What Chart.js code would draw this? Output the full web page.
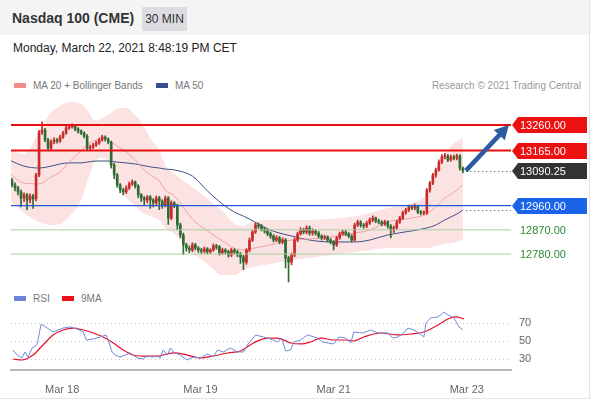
<!DOCTYPE html>
<html>
<head>
<meta charset="utf-8">
<script src="https://cdn.jsdelivr.net/npm/chart.js@4.4.0/dist/chart.umd.min.js"></script>
<style>
  body { margin: 0; background: #fff; font-family: "Liberation Sans", Arial, sans-serif; }
  #wrap { position: relative; width: 589px; height: 398px; border-right: 1px solid #e4e4e4; border-bottom: 1px solid #e4e4e4; overflow: hidden; }
  #head { position: absolute; left: 0; top: 0; width: 589px; height: 35px; background: #f4f4f4; }
  #title { position: absolute; left: 12px; top: 10px; font-size: 14px; font-weight: bold; color: #333; }
  #badge { position: absolute; left: 142px; top: 7px; width: 45px; height: 24px; background: #dcdde1; color: #333; font-size: 12px; line-height: 24px; text-align: center; }
  #date { position: absolute; left: 13px; top: 41px; font-size: 12px; color: #222; }
  .legend { position: absolute; font-size: 10px; color: #777; white-space: nowrap; }
  .sw { display: inline-block; width: 12px; height: 5px; vertical-align: middle; margin-right: 7px; position: relative; top: -1px; }
  #credit { position: absolute; right: 8px; top: 80px; font-size: 10px; color: #999; }
  canvas { position: absolute; left: 0; }
</style>
</head>
<body>
<div id="wrap">
  <div id="head">
    <div id="title">Nasdaq 100 (CME)</div>
    <div id="badge">30 MIN</div>
  </div>
  <div id="date">Monday, March 22, 2021 8:48:19 PM CET</div>
  <div class="legend" style="left:14px;top:80px"><span class="sw" style="background:#f28b8b"></span>MA 20 + Bollinger Bands</div>
  <div class="legend" style="left:156px;top:80px"><span class="sw" style="background:#34508f"></span>MA 50</div>
  <div id="credit">Research © 2021 Trading Central</div>
  <div class="legend" style="left:14px;top:293px"><span class="sw" style="background:#6f83d8"></span>RSI</div>
  <div class="legend" style="left:62px;top:293px"><span class="sw" style="background:#e8101a"></span>9MA</div>
  <canvas id="price" width="590" height="185" style="top:100px"></canvas>
  <canvas id="rsi" width="590" height="115" style="top:285px"></canvas>
</div>

<script>
// 30 min candles, index 0 = first bar on the left
const closes = [13037,13026,13011,12988,13000,12981,12996,12985,13074,13234,
  13241,13204,13174,13197,13204,13200,13215,13230,13249,13253,
  13256,13245,13238,13230,13219,13174,13178,13186,13193,13204,
  13215,13208,13197,13111,13074,13037,13018,13011,13026,13041,
  13048,13033,13000,12988,12981,12992,12981,12970,12988,12977,
  12962,12988,12914,12970,12962,12888,12851,12814,12802,12795,
  12814,12802,12795,12791,12799,12788,12795,12810,12806,12784,
  12795,12788,12776,12795,12788,12780,12769,12750,12795,12832,
  12862,12888,12884,12873,12866,12855,12847,12832,12840,12825,
  12832,12765,12750,12776,12832,12855,12869,12862,12877,12858,
  12866,12858,12847,12840,12843,12832,12825,12814,12840,12855,
  12862,12855,12847,12832,12888,12899,12888,12884,12895,12907,
  12914,12903,12899,12892,12899,12884,12869,12877,12899,12914,
  12933,12944,12955,12951,12959,12936,12933,12933,13018,13044,
  13074,13093,13122,13141,13145,13130,13141,13137,13145,13100,
  13090.25];
const highs = [13062,13045,13032,13018,13008,13006,13004,13002,13080,13240,
  13272,13248,13210,13205,13212,13210,13222,13236,13256,13262,
  13264,13260,13250,13242,13235,13224,13185,13192,13200,13210,
  13222,13220,13212,13200,13118,13080,13042,13025,13034,13048,
  13056,13052,13038,13005,12994,12998,12998,12986,12996,12995,
  12982,12996,12994,12978,12975,12966,12895,12858,12820,12810,
  12822,12820,12808,12802,12806,12804,12800,12818,12816,12812,
  12802,12800,12794,12802,12800,12794,12786,12775,12800,12840,
  12870,12896,12895,12890,12880,12872,12862,12852,12848,12846,
  12840,12838,12772,12784,12840,12862,12878,12876,12885,12884,
  12874,12872,12864,12852,12850,12848,12838,12830,12846,12862,
  12870,12868,12860,12852,12895,12906,12904,12894,12902,12914,
  12922,12918,12910,12905,12906,12904,12890,12885,12906,12920,
  12940,12950,12962,12962,12966,12962,12942,12940,13024,13050,
  13080,13100,13130,13150,13155,13150,13148,13148,13152,13150,
  13104];
const lows = [13030,13015,13000,12955,12975,12945,12970,12950,12978,13068,
  13225,13198,13165,13168,13190,13192,13195,13210,13225,13244,
  13248,13238,13230,13224,13212,13166,13168,13172,13180,13188,
  13200,13200,13190,13100,13060,13028,13008,13000,13005,13020,
  13035,13025,12990,12975,12960,12970,12950,12955,12962,12945,
  12950,12955,12890,12908,12952,12870,12840,12778,12790,12785,
  12788,12795,12786,12782,12784,12780,12782,12790,12798,12776,
  12778,12780,12768,12770,12780,12770,12745,12722,12742,12788,
  12826,12856,12876,12866,12858,12848,12838,12825,12826,12818,
  12818,12728,12676,12740,12770,12826,12850,12855,12855,12850,
  12850,12850,12840,12832,12834,12825,12818,12795,12808,12835,
  12850,12848,12840,12825,12828,12882,12880,12876,12878,12890,
  12900,12896,12892,12885,12886,12876,12840,12860,12872,12894,
  12908,12928,12938,12945,12944,12930,12926,12926,12928,13010,
  13038,13066,13088,13116,13134,13124,13125,13130,13130,13092,
  13082];
const firstOpen = 13055;

// MA 20 + Bollinger bands and MA 50, read at these bar indexes
const bandIdx = [-1,4,9,13,16,19,23,25,28,30,32,35,38,41,43,46,49,51,54,60,
  65,70,74,77,79,86,93,99,106,114,119,125,133,138,141,144,148,150];
const upperBand = [13174,13152,13234,13308,13331,13346,13338,13316,13275,13286,
  13297,13320,13323,13297,13271,13212,13167,13111,13078,13029,
  12985,12940,12892,12884,12895,12907,12907,12907,12910,12921,
  12933,12951,12970,13007,13093,13156,13200,13212];
const ma20 = [13081,13044,13041,13067,13085,13122,13163,13186,13204,13215,
  13204,13182,13160,13130,13104,13074,13052,13018,12996,12910,
  12866,12829,12802,12795,12799,12814,12832,12836,12843,12858,
  12869,12899,12914,12929,12955,12988,13018,13037];
const lowerBand = [12981,12933,12899,12888,12892,12918,12981,13048,13130,13137,
  13122,13037,12988,12959,12936,12921,12907,12877,12855,12788,
  12743,12702,12702,12721,12728,12743,12758,12765,12776,12788,
  12795,12802,12802,12802,12810,12817,12825,12832];
const ma50 = [13130,13107,13100,13107,13115,13119,13119,13122,13126,13126,
  13126,13122,13119,13115,13111,13104,13100,13096,13093,13070,
  13015,12966,12936,12921,12910,12869,12847,12832,12825,12825,
  12832,12851,12866,12877,12888,12907,12929,12944];

// support / resistance levels and the projection arrow
const levels = [13260, 13165, 12960, 12870, 12780];
const lastPrice = 13090.25;
const projIdx = [151, 165.3];
const projPrice = [13090.25, 13260];

// RSI panel
const rsiIdx = [0.3,1.7,3.3,4.3,5.3,6.7,8.3,9.7,11.7,13.7,
  17,19.3,21.7,23.7,24.7,27,29.3,31.3,32,33.3,
  34.3,36,37.7,39.3,41.7,43.7,45,46.7,48.3,49.3,
  50.3,51.7,52.7,53.7,56,58.3,60.3,62.7,65,67,
  68.3,70.3,72.7,75,77,78.3,81,83.7,86,88.3,
  89.7,91,92.7,93.7,96,98.3,101.7,103.3,107,108.7,
  111,112.7,113.7,116.7,119.3,121.7,125,126.7,128.3,130.3,
  131.7,133.7,135.3,137,137.7,139.3,141.7,143.7,145,147,
  148.7,150];
const rsiVal = [40,34.4,31.1,37.8,32.2,42.2,45.6,68.9,64.4,60,
  64.4,65.6,63.3,60,51.1,52.2,54.4,56.7,51.1,37.8,
  34.4,32.2,34.4,36.7,31.1,30,33.3,32.2,33.3,31.1,
  40,34.4,42.2,37.8,34.4,28.9,32.2,31.1,35.6,32.2,
  40,37.8,42.2,37.8,37.8,45.6,56.7,54.4,52.2,48.9,
  53.3,38.9,40,48.9,51.1,56.7,53.3,48.9,46.7,54.4,
  53.3,47.8,60,58.9,62.2,58.9,58.9,53.3,54.4,58.9,
  64.4,62.2,58.9,54.4,70,75.6,76.7,82.2,78.9,75.6,
  65.6,62.2];
const ma9Idx = [0.3,3.3,7,10.3,13.7,17,20.3,23.7,27,30.3,
  33.7,37,40.3,43.7,48.3,53.7,58.3,62.7,67,71.7,
  76,80.3,85,88.3,92.7,96,99.3,102.7,107,111.7,
  113.7,117,122.7,128.3,132.7,137,141.7,145,147.7,149.3,150.3];
const ma9Val = [30,28.9,34.4,45.6,56.7,62.2,64.4,62.2,58.9,54.4,
  47.8,40,34.4,33.3,33.3,36.7,34.4,31.1,33.3,36.7,
  38.9,47.8,53.3,53.3,47.8,46.7,48.9,53.3,51.1,51.1,
  50,54.4,58.9,56.7,57.8,60,67.8,74.4,76.7,75.6,74.4];
const rsiLevels = [30, 50, 70];

// x axis dates
const tickIdx = [16.7, 62.7, 107, 151.3];
const tickLabels = ['Mar 18', 'Mar 19', 'Mar 21', 'Mar 23'];

const X_MIN = -0.33, X_MAX = 166;
const UP = '#c92b2b', DOWN = '#2f6b34';

const opens = closes.map((c, i) => i === 0 ? firstOpen : closes[i - 1]);
const barColors = closes.map((c, i) => c >= opens[i] ? UP : DOWN);
const pts = (xs, ys) => xs.map((v, i) => ({ x: v, y: ys[i] }));
const flat = v => [{ x: X_MIN, y: v }, { x: X_MAX, y: v }];

Chart.defaults.font.family = '"Liberation Sans", Arial, sans-serif';
Chart.defaults.animation = false;

const levelStyle = [
  { color: '#e8100f', width: 2 },
  { color: '#e8100f', width: 2 },
  { color: '#2459d6', width: 1.3 },
  { color: '#a9d0a2', width: 1 },
  { color: '#a9d0a2', width: 1 },
];

const tagStyle = [
  { v: levels[0], bg: '#ec1010', fg: '#fff' },
  { v: levels[1], bg: '#ec1010', fg: '#fff' },
  { v: lastPrice, bg: '#333333', fg: '#fff' },
  { v: levels[2], bg: '#1b63e8', fg: '#fff' },
  { v: levels[3], bg: null, fg: '#2e8a36' },
  { v: levels[4], bg: null, fg: '#2e8a36' },
];

const overlay = {
  id: 'overlay',
  afterDraw(chart) {
    const { ctx, chartArea: a, scales: { x, y } } = chart;
    ctx.save();

    // dotted guides: last price and MA 50
    ctx.strokeStyle = '#777';
    ctx.lineWidth = 1;
    ctx.setLineDash([1.5, 2.5]);
    [lastPrice, ma50[ma50.length - 1]].forEach(v => {
      const py = Math.round(y.getPixelForValue(v)) + 0.5;
      ctx.beginPath();
      ctx.moveTo(x.getPixelForValue(151), py);
      ctx.lineTo(a.right, py);
      ctx.stroke();
    });
    ctx.setLineDash([]);

    // projection arrow
    const x0 = x.getPixelForValue(projIdx[0]), y0 = y.getPixelForValue(projPrice[0]);
    const x1 = x.getPixelForValue(projIdx[1]), y1 = y.getPixelForValue(projPrice[1]);
    const ang = Math.atan2(y1 - y0, x1 - x0);
    const head = 14;
    ctx.strokeStyle = ctx.fillStyle = '#2c5c9f';
    ctx.lineWidth = 4.5;
    ctx.beginPath();
    ctx.moveTo(x0, y0);
    ctx.lineTo(x1 - Math.cos(ang) * head * 0.8, y1 - Math.sin(ang) * head * 0.8);
    ctx.stroke();
    ctx.beginPath();
    ctx.moveTo(x1, y1);
    ctx.lineTo(x1 - Math.cos(ang) * head + Math.sin(ang) * 7.5, y1 - Math.sin(ang) * head - Math.cos(ang) * 7.5);
    ctx.lineTo(x1 - Math.cos(ang) * head - Math.sin(ang) * 7.5, y1 - Math.sin(ang) * head + Math.cos(ang) * 7.5);
    ctx.closePath();
    ctx.fill();

    // price tags on the right
    ctx.font = '11px "Liberation Sans", Arial, sans-serif';
    ctx.textBaseline = 'middle';
    tagStyle.forEach(t => {
      const py = Math.round(y.getPixelForValue(t.v));
      if (t.bg) {
        ctx.fillStyle = t.bg;
        ctx.beginPath();
        ctx.moveTo(a.right + 1, py);
        ctx.lineTo(a.right + 7, py - 8);
        ctx.lineTo(587, py - 8);
        ctx.lineTo(587, py + 8);
        ctx.lineTo(a.right + 7, py + 8);
        ctx.closePath();
        ctx.fill();
      }
      ctx.fillStyle = t.fg;
      ctx.fillText(t.v.toFixed(2), a.right + 9, py + 0.5);
    });
    ctx.restore();
  }
};

new Chart(document.getElementById('price'), {
  type: 'bar',
  data: {
    datasets: [
      { type: 'line', data: pts(bandIdx, upperBand), borderWidth: 0, pointRadius: 0, fill: false,
        cubicInterpolationMode: 'monotone', order: 20 },
      { type: 'line', data: pts(bandIdx, lowerBand), borderWidth: 0, pointRadius: 0, fill: '-1',
        backgroundColor: 'rgba(248,178,178,0.36)', cubicInterpolationMode: 'monotone', order: 20 },
      { type: 'line', data: pts(bandIdx, ma50), borderColor: '#3d4f86', borderWidth: 1, pointRadius: 0,
        cubicInterpolationMode: 'monotone', order: 6 },
      { type: 'line', data: pts(bandIdx, ma20), borderColor: '#f2a0a0', borderWidth: 1, pointRadius: 0,
        cubicInterpolationMode: 'monotone', order: 5 },
      { data: closes.map((c, i) => ({ x: i, y: [lows[i], highs[i]] })), backgroundColor: barColors,
        barThickness: 1, grouped: false, order: 4 },
      { data: closes.map((c, i) => ({ x: i, y: [opens[i], c] })), backgroundColor: barColors,
        barThickness: 2, minBarLength: 1, grouped: false, order: 3 },
      ...levels.map((v, k) => ({ type: 'line', data: flat(v), borderColor: levelStyle[k].color,
        borderWidth: levelStyle[k].width, pointRadius: 0, order: 1 })),
    ]
  },
  options: {
    responsive: false,
    devicePixelRatio: 1,
    layout: { padding: { left: 11, right: 79, top: 0, bottom: 0 } },
    plugins: { legend: { display: false }, tooltip: { enabled: false } },
    scales: {
      x: { type: 'linear', min: X_MIN, max: X_MAX, offset: false, display: false },
      y: { min: 12664.8, max: 13353, display: false },
    }
  },
  plugins: [overlay]
});

new Chart(document.getElementById('rsi'), {
  type: 'line',
  data: {
    datasets: [
      { data: pts(rsiIdx, rsiVal), borderColor: '#7389da', borderWidth: 1, pointRadius: 0 },
      { data: pts(ma9Idx, ma9Val), borderColor: '#e8102a', borderWidth: 1.2, pointRadius: 0,
        cubicInterpolationMode: 'monotone' },
    ]
  },
  options: {
    responsive: false,
    devicePixelRatio: 1,
    layout: { padding: { left: 11, right: 0, top: 15, bottom: 0 } },
    plugins: { legend: { display: false }, tooltip: { enabled: false } },
    scales: {
      x: {
        type: 'linear', min: X_MIN, max: X_MAX, offset: false,
        grid: { display: false },
        border: { display: true, color: '#b8b8b8', width: 2 },
        afterBuildTicks: s => { s.ticks = tickIdx.map(v => ({ value: v })); },
        afterFit: s => { s.height = 30; },
        ticks: { autoSkip: false, maxRotation: 0, padding: 5, color: '#666', font: { size: 11 },
          callback: (v, i) => tickLabels[i] },
      },
      y: {
        position: 'right', min: 17.78, max: 95.56,
        grid: { color: '#c6c6c6', drawTicks: false },
        border: { display: false, dash: [1, 3] },
        afterBuildTicks: s => { s.ticks = rsiLevels.map(v => ({ value: v })); },
        afterFit: s => { s.width = 79; },
        ticks: { padding: 8, color: '#666', font: { size: 11 } },
      }
    }
  }
});
</script>
</body>
</html>
